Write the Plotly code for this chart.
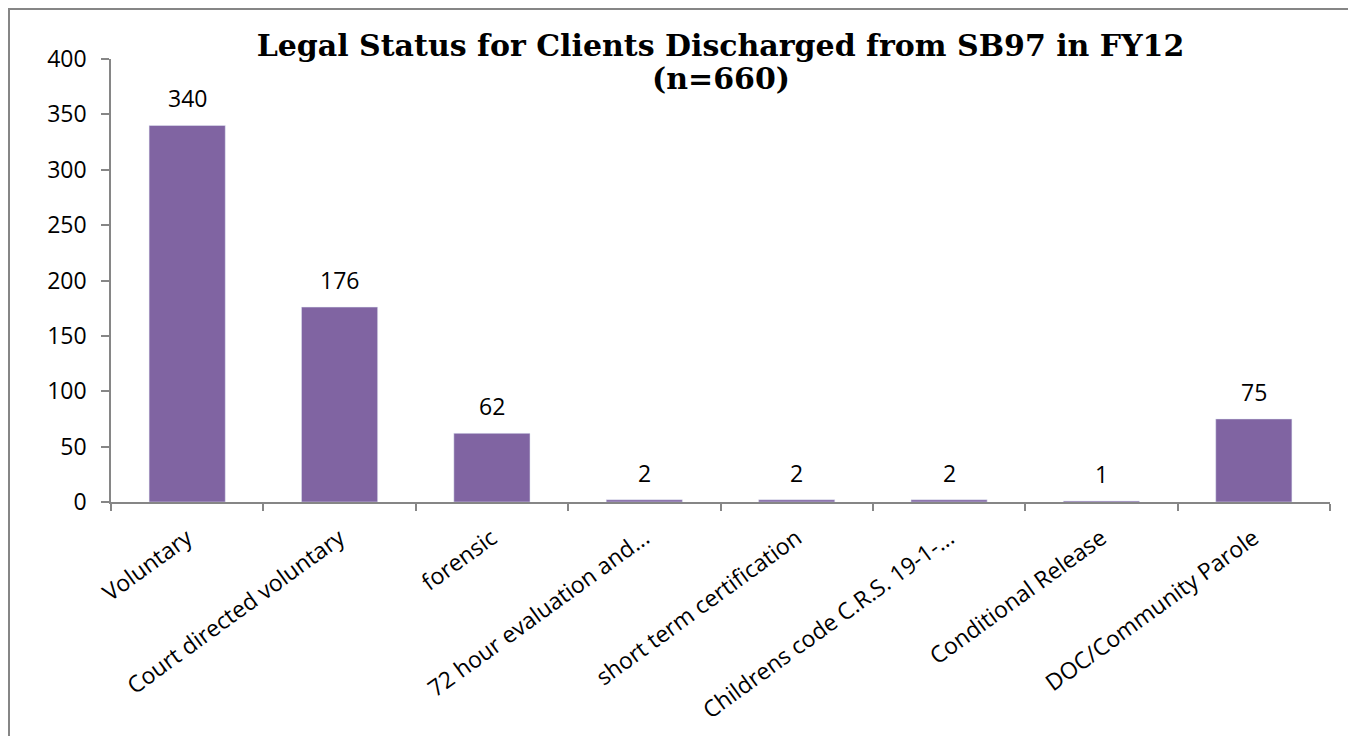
import plotly.graph_objects as go

categories = ["Voluntary", "Court directed voluntary", "forensic", "72 hour evaluation and...",
              "short term certification", "Childrens code C.R.S. 19-1-...", "Conditional Release",
              "DOC/Community Parole"]
values = [340, 176, 62, 2, 2, 2, 1, 75]
y_ticks = [0, 50, 100, 150, 200, 250, 300, 350, 400]
title_line1 = "Legal Status for Clients Discharged from SB97 in FY12"
title_line2 = "(n=660)"

# page body has an 8px default margin, so the figure is sized to fill the rest
W, H = 1348, 728
L, R, T, B = 103, 26, 51, 234
pw = W - L - R
ph = H - T - B

FONT = "Open Sans"

fig = go.Figure()
fig.add_trace(go.Bar(x=categories, y=values, marker=dict(color="#8064A2"), width=0.5,
                     hoverinfo="x+y"))

for c, v in zip(categories, values):
    fig.add_annotation(x=c, y=v, text=str(v), showarrow=False, yanchor="bottom",
                       yshift=9, font=dict(family=FONT, size=23, color="#000000"))

# second title line
fig.add_annotation(xref="paper", yref="paper", x=0.5, y=(H - 70 - (H - T - ph)) / ph,
                   text=title_line2, showarrow=False, xanchor="center", yanchor="middle",
                   font=dict(family="DejaVu Serif", size=30, color="#000000", weight="bold"))

# chart border (top and left edges visible in reference)
fig.add_shape(type="rect", xref="paper", yref="paper",
              x0=(1 - L) / pw, x1=(W + 20 - L) / pw,
              y0=-(H + 20 - (T + ph)) / ph, y1=(T + ph - 1) / ph,
              line=dict(color="#868686", width=2), fillcolor="rgba(0,0,0,0)", layer="below")

fig.update_layout(
    width=W, height=H,
    margin=dict(l=L, r=R, t=T, b=B, autoexpand=False),
    paper_bgcolor="white", plot_bgcolor="white",
    showlegend=False,
    title=dict(text=title_line1, x=0.5, xref="paper", y=(H - 37) / H, yanchor="middle",
               xanchor="center",
               font=dict(family="DejaVu Serif", size=30, color="#000000", weight="bold")),
    xaxis=dict(type="category", showline=True, linecolor="#868686", linewidth=1.5,
               ticks="outside", ticklen=7, tickcolor="#868686", tickwidth=1.5,
               tickson="boundaries", tickangle=-36, showgrid=False,
               tickfont=dict(family=FONT, size=23, color="#000000"),
               ticklabelstandoff=12),
    yaxis=dict(range=[0, 400], tickvals=y_ticks, showline=True, linecolor="#868686",
               linewidth=1.5, ticks="outside", ticklen=8, tickcolor="#868686", tickwidth=1.5,
               showgrid=False, zeroline=False,
               tickfont=dict(family=FONT, size=23, color="#000000"),
               ticklabelstandoff=10),
)

fig.write_html("out.html")
